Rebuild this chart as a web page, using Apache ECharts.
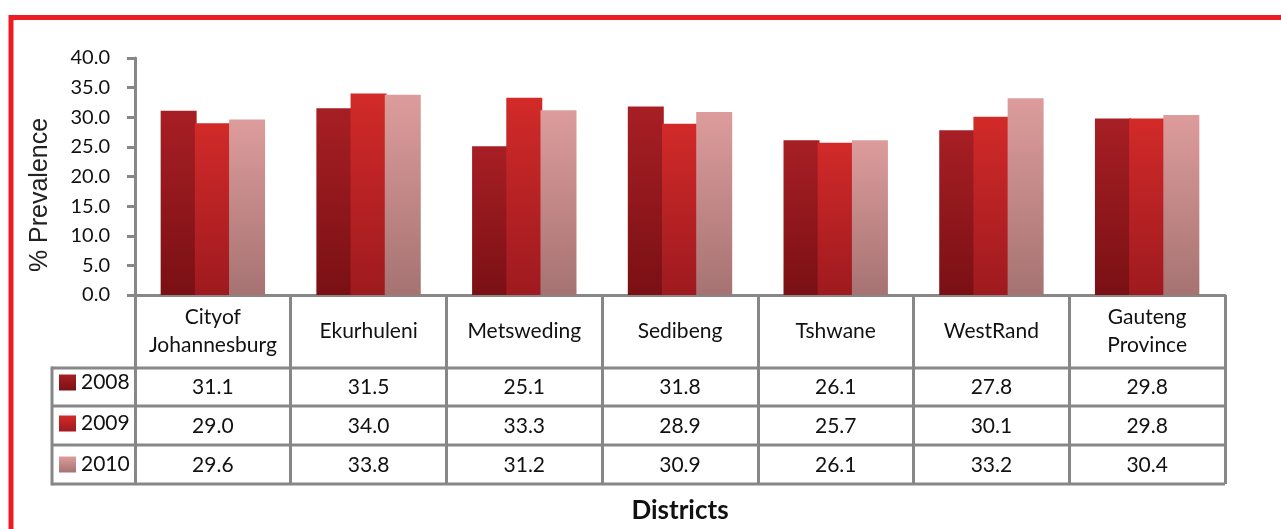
<!DOCTYPE html>
<html lang="en">
<head>
    <meta charset="utf-8">
    <title>Prevalence by district</title>
    <script src="https://cdn.jsdelivr.net/npm/echarts@6/dist/echarts.min.js"></script>
    <style>
        html, body { margin: 0; padding: 0; background: #fff; }
        #chart { width: 1281px; height: 529px; }
    </style>
</head>
<body>
<div id="chart"></div>
<script type="text/javascript">
    // data
    var districts = ['Cityof\nJohannesburg', 'Ekurhuleni', 'Metsweding', 'Sedibeng', 'Tshwane', 'WestRand', 'Gauteng\nProvince'];
    var years = ['2008', '2009', '2010'];
    var v2008 = [31.1, 31.5, 25.1, 31.8, 26.1, 27.8, 29.8];
    var v2009 = [29.0, 34.0, 33.3, 28.9, 25.7, 30.1, 29.8];
    var v2010 = [29.6, 33.8, 31.2, 30.9, 26.1, 33.2, 30.4];
    var yTicks = [0, 5, 10, 15, 20, 25, 30, 35, 40];

    var rows = [v2008, v2009, v2010];
    var font = 'Lato, "Open Sans", sans-serif';
    var gray = '#878787';

    // gradient colours, top -> bottom
    var fills = [
        ['#a71f24', '#7a1014'],
        ['#d22a29', '#9e1a1f'],
        ['#dd9c9c', '#a67372']
    ];
    function grad(c) {
        return new echarts.graphic.LinearGradient(0, 0, 0, 1, [
            {offset: 0, color: c[0]},
            {offset: 1, color: c[1]}
        ]);
    }

    var chart = echarts.init(document.getElementById('chart'));

    // table geometry
    var gLeft = 135, gRight = 1225, axisY = 295;
    var rowLines = [368, 406, 445, 484];
    var tableLeft = 52;

    var graphics = [
        // red frame
        {type: 'rect', shape: {x: 11, y: 17.5, width: 1300, height: 600},
            style: {fill: 'none', stroke: '#ed1c24', lineWidth: 5}, z: 10},
        // y axis title
        {type: 'text', x: 40, y: 195, rotation: Math.PI / 2,
            style: {text: '% Prevalence', font: '25px "Liberation Sans", Arial, sans-serif', fill: '#222',
                align: 'center', verticalAlign: 'middle'}},
        // legend column left border
        {type: 'line', shape: {x1: tableLeft, y1: rowLines[0] - 1.5, x2: tableLeft, y2: rowLines[3] + 1.5},
            style: {stroke: gray, lineWidth: 3}}
    ];
    rowLines.forEach(function (y) {
        graphics.push({type: 'line', shape: {x1: tableLeft, y1: y, x2: gRight, y2: y},
            style: {stroke: gray, lineWidth: 3}});
    });

    var xAxes = [{
        type: 'category',
        data: districts,
        axisLine: {lineStyle: {color: gray, width: 3}},
        axisTick: {show: true, length: rowLines[3] - axisY, lineStyle: {color: gray, width: 3}},
        axisLabel: {color: '#111', fontSize: 21, fontFamily: font, lineHeight: 28,
            verticalAlign: 'middle', margin: 36, interval: 0},
        name: 'Districts',
        nameLocation: 'middle',
        nameGap: 203,
        nameTextStyle: {fontSize: 26, fontWeight: 'bold', fontFamily: font, color: '#111'}
    }];
    var offsets = [92, 131, 170];
    rows.forEach(function (vals, i) {
        xAxes.push({
            type: 'category',
            position: 'bottom',
            offset: offsets[i],
            data: vals.map(function (v) { return v.toFixed(1); }),
            axisLine: {show: false},
            axisTick: {show: false},
            axisLabel: {color: '#111', fontSize: 21, fontFamily: font, verticalAlign: 'middle', margin: 0, interval: 0}
        });
    });

    chart.setOption({
        animation: false,
        grid: {left: gLeft, right: 1281 - gRight, top: 58, bottom: 529 - axisY, outerBoundsMode: 'none'},
        legend: {
            data: years,
            orient: 'vertical',
            left: 59,
            top: 372,
            padding: 0,
            itemWidth: 17,
            itemHeight: 16,
            itemGap: 20,
            icon: 'rect',
            textStyle: {fontSize: 21, fontFamily: font, color: '#111'}
        },
        xAxis: xAxes,
        yAxis: {
            type: 'value',
            min: yTicks[0],
            max: yTicks[yTicks.length - 1],
            interval: 5,
            axisLine: {show: true, lineStyle: {color: gray, width: 3}},
            axisTick: {show: true, length: 8, lineStyle: {color: gray, width: 3}},
            splitLine: {show: false},
            axisLabel: {color: '#111', fontSize: 20, fontFamily: font, margin: 25,
                formatter: function (v) { return v.toFixed(1); }}
        },
        series: rows.map(function (vals, i) {
            return {
                name: years[i],
                type: 'bar',
                data: vals,
                barWidth: 36,
                barGap: '-5%',
                itemStyle: {color: grad(fills[i])}
            };
        }),
        graphic: graphics
    });
</script>
</body>
</html>
